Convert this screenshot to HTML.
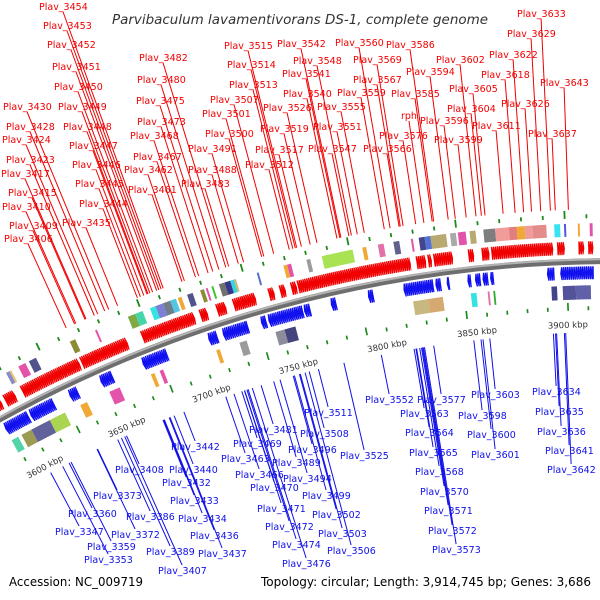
<!DOCTYPE html>
<html><head><meta charset="utf-8"><style>
html,body{margin:0;padding:0;background:#fff;}
svg{display:block;}
text{font-family:"DejaVu Sans","Liberation Sans",sans-serif;}
</style></head><body>
<svg id="map" width="600" height="600" viewBox="0 0 600 600" xmlns="http://www.w3.org/2000/svg">
<text x="112" y="24" font-size="13" font-style="italic" fill="#333" textLength="376" lengthAdjust="spacingAndGlyphs">Parvibaculum lavamentivorans DS-1, complete genome</text>
<text x="9" y="586" font-size="12" fill="#000" textLength="134" lengthAdjust="spacingAndGlyphs">Accession: NC_009719</text>
<text x="261" y="586" font-size="12" fill="#000" textLength="330" lengthAdjust="spacingAndGlyphs">Topology: circular; Length: 3,914,745 bp; Genes: 3,686</text>
<g id="layer"></g>
</svg>
<script>
// ---- data ----
const tickKbp = [3600,3650,3700,3750,3800,3850,3900];
const fwdGenes = [[3591,3596],[3598,3604],[3608,3641],[3642,3668],[3676,3705],[3708,3712],[3717,3722],[3726,3738],[3745,3748],[3751,3754],[3757,3760],[3760.5,3820],[3823,3828],[3829,3831],[3832,3842],[3850,3853],[3857,3861],[3862,3894],[3896,3900],[3907,3910],[3912,3914.7]];
const revGenes = [[3591,3605],[3606,3620],[3629,3634],[3647,3654],[3671,3685],[3708,3713],[3716,3730],[3737,3740],[3741,3760],[3760.5,3764],[3775,3778],[3795,3798],[3814,3830],[3831,3834],[3837,3838.5],[3848,3850],[3852,3855],[3856,3859],[3860,3862],[3890,3894],[3897,3914.7]];
const fwdBlockStart = [3605,3607,3612,3618,3641,3655,3673,3677,3685,3688,3692,3696,3700,3705,3712,3715,3718,3722,3725,3728,3730,3742,3756,3758,3768,3776,3797,3805,3813,3822,3826,3829,3832,3842,3846,3852,3859,3865,3872,3876,3880,3884,3895,3900,3907,3913];
const fwdBlockEnd   = [3607,3608,3616,3622,3644,3656,3677,3681,3688,3692,3696,3699,3702,3708,3714,3716,3719,3725,3728,3730,3731,3743,3758,3760,3770,3792,3799,3808,3816,3823,3829,3832,3840,3845,3850,3855,3865,3872,3876,3880,3884,3891,3898,3901,3908,3914.5];
const fwdBlockColor = ["#8080c0","#e0c060","#e040a0","#404080","#808020","#e040a0","#70a030","#30d0a0","#20e0e0","#7070d0","#607080","#40c0e0","#f0a020","#404080","#808020","#e040a0","#20c020","#606060","#202080","#20d0e0","#d0b060","#4060c0","#f0a020","#e040a0","#909090","#a0e040","#f0a020","#e060a0","#505080","#e040a0","#303080","#4060d0","#b0a060","#a0a0a0","#e040a0","#b0a060","#707070","#f09090","#e07070","#f0a020","#f09090","#e08080","#20e0f0","#4040e0","#f0a020","#e040a0"];
const revBlockStart = [3591,3597,3603,3614,3632,3649,3673,3678,3710,3723,3743,3748,3818,3826,3849,3858,3861,3892,3898,3905];
const revBlockEnd   = [3595,3603,3614,3623,3636,3655,3675,3680,3712,3727,3748,3754,3826,3834,3852,3859,3862,3895,3905,3913];
const revBlockColor = ["#40d0a0","#909040","#505090","#a0d040","#f0a020","#e040a0","#f0a020","#e040a0","#f0a020","#909090","#808090","#303070","#c0b070","#d0a060","#20e0e0","#e060a0","#20a020","#303080","#404090","#5050a0"];
const fwdLabels = [["Plav_3454",39,10],["Plav_3453",43,29],["Plav_3452",47,48],["Plav_3451",52,70],["Plav_3450",54,90],["Plav_3449",58,110],["Plav_3448",63,130],["Plav_3447",69,149],["Plav_3446",72,168],["Plav_3445",75,187],["Plav_3444",79,207],["Plav_3435",62,226],["Plav_3430",3,110],["Plav_3428",6,130],["Plav_3424",2,143],["Plav_3423",6,163],["Plav_3417",1,177],["Plav_3415",8,196],["Plav_3410",2,210],["Plav_3409",9,229],["Plav_3406",4,242],["Plav_3482",139,61],["Plav_3480",137,83],["Plav_3475",136,104],["Plav_3473",137,125],["Plav_3468",130,139],["Plav_3467",133,160],["Plav_3462",124,173],["Plav_3461",128,193],["Plav_3491",188,152],["Plav_3488",188,173],["Plav_3483",181,187],["Plav_3515",224,49],["Plav_3514",227,68],["Plav_3513",229,88],["Plav_3507",210,103],["Plav_3501",202,117],["Plav_3500",205,137],["Plav_3526",263,111],["Plav_3519",260,132],["Plav_3517",255,153],["Plav_3512",245,168],["Plav_3542",277,47],["Plav_3548",293,64],["Plav_3541",282,77],["Plav_3540",283,97],["Plav_3555",317,110],["Plav_3551",313,130],["Plav_3547",308,152],["Plav_3560",335,46],["Plav_3569",353,63],["Plav_3567",353,83],["Plav_3559",337,96],["Plav_3586",386,48],["Plav_3594",406,75],["Plav_3585",391,97],["rph",401,119],["Plav_3596",420,124],["Plav_3576",379,139],["Plav_3566",363,152],["Plav_3599",434,143],["Plav_3602",436,63],["Plav_3605",449,92],["Plav_3604",447,112],["Plav_3611",472,129],["Plav_3618",481,78],["Plav_3622",489,58],["Plav_3626",501,107],["Plav_3629",507,37],["Plav_3633",517,17],["Plav_3643",540,86],["Plav_3637",528,137]];
const revLabels = [["Plav_3442",171,450],["Plav_3408",115,473],["Plav_3440",169,473],["Plav_3432",162,486],["Plav_3373",93,499],["Plav_3433",170,504],["Plav_3360",68,517],["Plav_3386",126,520],["Plav_3434",178,522],["Plav_3347",55,535],["Plav_3372",111,538],["Plav_3436",190,539],["Plav_3359",87,550],["Plav_3389",146,555],["Plav_3437",198,557],["Plav_3353",84,563],["Plav_3407",158,574],["Plav_3481",249,433],["Plav_3469",233,447],["Plav_3463",221,462],["Plav_3466",235,478],["Plav_3470",250,491],["Plav_3511",304,416],["Plav_3508",300,437],["Plav_3496",288,453],["Plav_3489",272,466],["Plav_3494",283,482],["Plav_3499",302,499],["Plav_3471",257,512],["Plav_3472",265,530],["Plav_3502",312,518],["Plav_3503",318,537],["Plav_3474",272,548],["Plav_3506",327,554],["Plav_3476",282,567],["Plav_3552",365,403],["Plav_3577",417,403],["Plav_3563",400,417],["Plav_3564",405,436],["Plav_3565",409,456],["Plav_3568",415,475],["Plav_3570",420,495],["Plav_3571",424,514],["Plav_3572",428,534],["Plav_3573",432,553],["Plav_3525",340,459],["Plav_3603",471,398],["Plav_3598",458,419],["Plav_3600",467,438],["Plav_3601",471,458],["Plav_3634",532,395],["Plav_3635",535,415],["Plav_3636",537,435],["Plav_3641",545,454],["Plav_3642",547,473]];

// ---- geometry ----
const CX=615, CY=1535, R=1274;
const NS="http://www.w3.org/2000/svg";
const layer=document.getElementById('layer');
function ang(k){return (-2.23+(k-3900)*0.0862)*Math.PI/180;}
function pt(k,r){const a=ang(k);return [CX+r*Math.sin(a),CY-r*Math.cos(a)];}
function mk(tag,attrs){const e=document.createElementNS(NS,tag);for(const k in attrs)e.setAttribute(k,attrs[k]);layer.appendChild(e);return e;}
function band(a,b,r1,r2){const p1=pt(a,r1),p2=pt(b,r1),p3=pt(b,r2),p4=pt(a,r2);
 return `M${p1[0]},${p1[1]}A${r1},${r1} 0 0 1 ${p2[0]},${p2[1]}L${p3[0]},${p3[1]}A${r2},${r2} 0 0 0 ${p4[0]},${p4[1]}Z`;}

// backbone
{const a=pt(3560,R),b=pt(3940,R);
 const e=mk('path',{d:`M${a[0]},${a[1]}A${R},${R} 0 0 1 ${b[0]},${b[1]}`,fill:'none',stroke:'#6e6e6e','stroke-width':6});
 
 
 const a2=pt(3560,R+1.8),b2=pt(3940,R+1.8);
 const h=mk('path',{d:`M${a2[0]},${a2[1]}A${R+1.8},${R+1.8} 0 0 1 ${b2[0]},${b2[1]}`,fill:'none',stroke:'#b4b4b4','stroke-width':2});
 
 }

// green dot rows (grid marks)
for(let k=3592;k<3915;k+=11){
 [[1317,1321],[1225,1229]].forEach(([r1,r2],i)=>{
  const d=mk('path',{d:band(k,k+0.9,r1,r2+(Math.round(k)%5===0?4:0)),fill:'#1a8a1a'});
  
  
 });
}

// genes
function genes(list,r1,r2,color,fwd,name){
 list.forEach(([a,b])=>{
  const w=1.25, mid=(r1+r2)/2;
  for(let s=a;s<b-0.01;s+=w*0.8){
   const e2=Math.min(s+w,b);
   let pts;
   if(fwd) pts=[pt(s,r1),pt(s+(e2-s)*0.55,r1),pt(e2,mid),pt(s+(e2-s)*0.55,r2),pt(s,r2)];
   else pts=[pt(e2,r1),pt(e2-(e2-s)*0.55,r1),pt(s,mid),pt(e2-(e2-s)*0.55,r2),pt(e2,r2)];
   const g=mk('polygon',{points:pts.map(p=>p[0].toFixed(1)+','+p[1].toFixed(1)).join(' '),fill:color});
   
   
  }
 });
}
genes(fwdGenes,1281,1294,'#f00000',true,'forward-gene');
genes(revGenes,1256,1269,'#1010f0',false,'reverse-gene');

// COG blocks
fwdBlockStart.forEach((s,i)=>{
 const b=mk('path',{d:band(s,fwdBlockEnd[i],1299,1312),fill:fwdBlockColor[i],opacity:0.9});
 
 
});
revBlockStart.forEach((s,i)=>{
 const b=mk('path',{d:band(s,revBlockEnd[i],1236,1250),fill:revBlockColor[i],opacity:0.9});
 
 
});

// kbp tick labels
tickKbp.forEach(k=>{
 const p=pt(k,1208);const deg=ang(k)*180/Math.PI;
 const t=mk('text',{x:p[0].toFixed(1),y:p[1].toFixed(1),'font-size':8.5,fill:'#333','text-anchor':'middle',transform:`rotate(${deg.toFixed(2)} ${p[0].toFixed(1)} ${p[1].toFixed(1)})`});
 t.textContent=k+' kbp';
 
 
});

// labels + leader lines
function ext(x,y,r){const dx=x-CX,dy=y-CY,d=Math.hypot(dx,dy);return [CX+dx*r/d,CY+dy*r/d];}
function labels(list,color,outer){
 list.forEach(([name,x,y])=>{
  const w=name.length*5.35;
  const s=outer?[x+w/2,y+2]:[x+w/2,y-9];
  const e=ext(s[0],s[1],outer?1326:1203);
  const l=mk('line',{x1:s[0].toFixed(1),y1:s[1].toFixed(1),x2:e[0].toFixed(1),y2:e[1].toFixed(1),stroke:color,'stroke-width':1});
  
  
 });
 list.forEach(([name,x,y])=>{
  const t=mk('text',{x:x,y:y,'font-size':9.5,fill:color});
  t.textContent=name;
  
  
 });
}
labels(fwdLabels,'#f00000',true);
labels(revLabels,'#1010e8',false);
</script>
</body></html>
